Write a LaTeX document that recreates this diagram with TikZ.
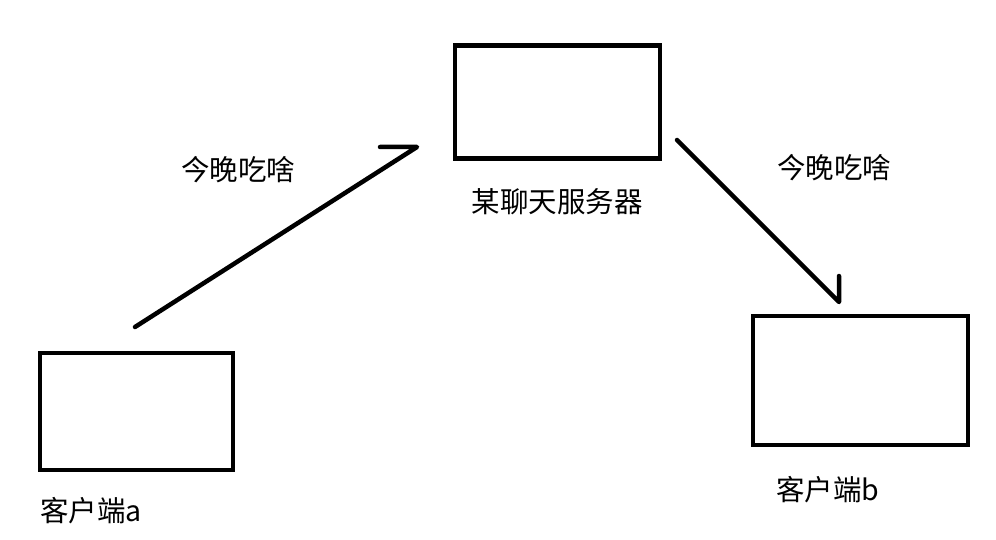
\documentclass[tikz,border=0pt]{standalone}
\usepackage{fontspec}
\setmainfont{Noto Sans CJK SC}
\usepackage{tikz}
\usetikzlibrary{positioning}

\begin{document}
\begin{tikzpicture}[x=1pt,y=-1pt]
        % Define the styles for boxes and labels
        \tikzstyle{hostbox}=[rectangle, draw, line width=4.5pt, inner sep=0pt]
        \tikzstyle{msgtext}=[font=\fontsize{28.5}{33}\selectfont, inner sep=0pt]
        \tikzstyle{handline}=[line width=4.5pt, line cap=round, line join=round]

        \useasboundingbox (0,0) rectangle (996,540);

        % Define the nodes
        \node[hostbox, minimum width=205pt, minimum height=113pt] (server) at (557.5,102) {};
        \node[hostbox, minimum width=193pt, minimum height=117pt] (clienta) at (136.5,411.5) {};
        \node[hostbox, minimum width=215pt, minimum height=129pt] (clientb) at (860.5,380.5) {};

        \node[msgtext] (serverlabel) at (557,202) {某聊天服务器};
        \node[msgtext] (clientalabel) at (91,511) {客户端a};
        \node[msgtext] (clientblabel) at (828,490) {客户端b};
        \node[msgtext] (msga) at (238,170) {今晚吃啥};
        \node[msgtext] (msgb) at (834,168) {今晚吃啥};

        % Define the ends of the hand drawn arrows
        \coordinate (froma) at (135,327);
        \coordinate (toserver) at (417,147);
        \coordinate (hooka) at (380,147);
        \coordinate (fromserver) at (677,140);
        \coordinate (tob) at (839,302);
        \coordinate (hookb) at (839,276);

        % Define the arrows
        \draw[handline] (froma) -- (toserver) -- (hooka);
        \draw[handline] (fromserver) -- (tob) -- (hookb);
    \end{tikzpicture}
\end{document}
